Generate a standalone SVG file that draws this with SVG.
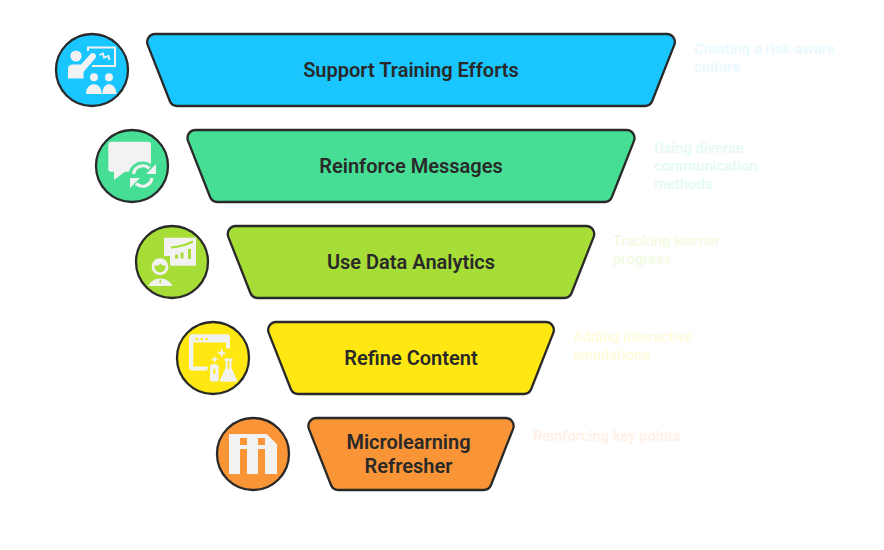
<svg xmlns="http://www.w3.org/2000/svg" width="884" height="550" viewBox="0 0 884 550">
<style>
.s{stroke:#292929;stroke-width:2.3}
.l{font-family:Roboto,"Liberation Sans",sans-serif;font-weight:600;font-size:20px;fill:#292929;text-anchor:middle}
.n{font-family:Roboto,"Liberation Sans",sans-serif;font-weight:500;font-size:14.8px}
.i{fill:#f2f2f2}
</style>
<rect width="884" height="550" fill="#fff"/>
<g id="connectors"/>
<g id="node1">
<path class="s" fill="#1ac6ff" d="M155.300 34H666.700A8 8 0 0 1 674.200 45.070L652.200 101A8 8 0 0 1 644.800 106H177.200A8 8 0 0 1 169.800 101L147.800 45.070A8 8 0 0 1 155.300 34Z"/>
<text class="l" x="411" y="77.400">Support Training Efforts</text>
<circle class="s" fill="#1ac6ff" cx="92" cy="70" r="36"/>
<circle class="i" cx="76" cy="56" r="5.600"/>
<path class="i" d="M68 78.500V69Q68 64.500 73 64.500H81L90.500 54Q93 52 95 54T95.500 58L83.500 72V78.500Z"/>
<path d="M88 51V47.500H115V66H92" fill="none" stroke="#f2f2f2" stroke-width="2" stroke-linejoin="round"/>
<path d="M99.500 55L103 53.500L104 57.500L108.500 56L109.500 60" fill="none" stroke="#f2f2f2" stroke-width="1.800"/>
<circle class="i" cx="94" cy="77.300" r="4"/>
<circle class="i" cx="109" cy="77.300" r="4"/>
<path class="i" d="M86 94Q86 85 94 84Q101.500 85 101.700 94ZM102.300 94Q102.500 85 109 84Q116 85 116.500 94Z"/>
</g>
<g id="node2">
<path class="s" fill="#45de94" d="M195.600 130H626.400A8 8 0 0 1 633.900 141.070L611.900 197A8 8 0 0 1 604.500 202H217.500A8 8 0 0 1 210.100 197L188.100 141.070A8 8 0 0 1 195.600 130Z"/>
<text class="l" x="411" y="173.400">Reinforce Messages</text>
<circle class="s" fill="#45de94" cx="132" cy="166" r="36"/>
<path class="i" d="M111 141.700H148Q151 141.700 151 144.700V169Q151 171.700 148 171.700H125L114 180V171.700H111Q108.300 171.700 108.300 169V144.700Q108.300 141.700 111 141.700Z"/>
<circle cx="142.700" cy="176" r="14.500" fill="#45de94"/>
<path d="M133.500 174A9.500 9.500 0 0 1 149.500 168.500M152 178A9.500 9.500 0 0 1 136 183.500" fill="none" stroke="#f2f2f2" stroke-width="3.200"/>
<path class="i" d="M146 174H156V164ZM130 178H140L130 188Z"/>
</g>
<g id="node3">
<path class="s" fill="#a6dd36" d="M235.900 226H586.100A8 8 0 0 1 593.600 237.070L571.600 293A8 8 0 0 1 564.200 298H257.800A8 8 0 0 1 250.400 293L228.400 237.070A8 8 0 0 1 235.900 226Z"/>
<text class="l" x="411" y="269.400">Use Data Analytics</text>
<circle class="s" fill="#a6dd36" cx="172" cy="262" r="36"/>
<path class="i" d="M164 237.700H196V265.700H170V256H164Z"/>
<path d="M171 247.500Q183 246.500 193 241.500" fill="none" stroke="#a6dd36" stroke-width="2"/>
<path d="M175 254.500H178V258.500H175ZM180.500 252.500H183.500V258.500H180.500ZM188 249H191V259H188Z" fill="#a6dd36"/>
<circle cx="160.500" cy="266.500" r="10" fill="#a6dd36"/>
<circle cx="160" cy="266.700" r="7" fill="none" stroke="#f2f2f2" stroke-width="2.800"/>
<path class="i" d="M153.500 265A7 7 0 0 1 166.800 265Q162 266.500 160.500 263.500Q158 267 153.500 265Z"/>
<path class="i" d="M148.300 286Q151 279.500 159 278.500H161.500Q169.500 279.500 172.700 286Z"/>
<path d="M160.300 279.500V283.500" stroke="#a6dd36" stroke-width="1.500"/>
</g>
<g id="node4">
<path class="s" fill="#ffe711" d="M276.300 322H545.700A8 8 0 0 1 553.200 333.070L531.200 389A8 8 0 0 1 523.800 394H298.200A8 8 0 0 1 290.800 389L268.800 333.070A8 8 0 0 1 276.300 322Z"/>
<text class="l" x="411" y="365.400">Refine Content</text>
<circle class="s" fill="#ffe711" cx="213" cy="358" r="36"/>
<path class="i" d="M192 334.300H227Q230 334.300 230 337.300V348.500H226V342.500H193.300V366.500H207.500V370.500H192Q189 370.500 189 367.500V337.300Q189 334.300 192 334.300Z"/>
<circle cx="196.700" cy="339" r="1.300" fill="#ffe711"/><circle cx="201.700" cy="339" r="1.300" fill="#ffe711"/><circle cx="206.700" cy="339" r="1.300" fill="#ffe711"/>
<path class="i" d="M221.700 348L223 351.700L226.700 353L223 354.300L221.700 358L220.400 354.300L216.700 353L220.400 351.700ZM214.700 355.500L215.800 358.400L218.700 359.500L215.800 360.600L214.700 363.500L213.600 360.600L210.700 359.500L213.600 358.400Z"/>
<path class="i" d="M210 366.500Q210 364 214.300 364Q218.700 364 218.700 366.500V380Q218.700 381.700 214.300 381.700Q210 381.700 210 380ZM224.500 358.500H232.500V361H231.500V368L237 380Q237.500 381.700 235.500 381.700H221.500Q219.500 381.700 220 380L225.500 368V361H224.500Z"/>
<path d="M214.300 369V374" stroke="#ffe711" stroke-width="2"/>
<path d="M228.500 361V369" stroke="#ffe711" stroke-width="1.500"/>
</g>
<g id="node5">
<path class="s" fill="#f99537" d="M316.500 418H505.500A8 8 0 0 1 513 429.070L491 485A8 8 0 0 1 483.600 490H338.400A8 8 0 0 1 331 485L309 429.070A8 8 0 0 1 316.500 418Z"/>
<text class="l" x="408.500" y="449.400">Microlearning</text>
<text class="l" x="408.500" y="473.400">Refresher</text>
<circle class="s" fill="#f99537" cx="253" cy="454" r="36"/>
<path class="i" d="M229 434H266.700L277 444.300V474H265V449H258V474H247V449H240V474H229Z"/>
<path fill="#f99537" d="M240 438H247V445H240ZM258 438H265V445H258Z"/>
</g>
<g id="notes">
<text class="n" fill="#e8f9ff" x="694" y="54">Creating a risk-aware</text>
<text class="n" fill="#e8f9ff" x="694" y="72">culture</text>
<text class="n" fill="#e3fbf0" x="654" y="153">Using diverse</text>
<text class="n" fill="#e3fbf0" x="654" y="171">communication</text>
<text class="n" fill="#e3fbf0" x="654" y="189">methods</text>
<text class="n" fill="#f3fbe3" x="613" y="246">Tracking learner</text>
<text class="n" fill="#f3fbe3" x="613" y="264">progress</text>
<text class="n" fill="#fffbdc" x="573" y="342">Adding interactive</text>
<text class="n" fill="#fffbdc" x="573" y="360">simulations</text>
<text class="n" fill="#fff1e5" x="533" y="441">Reinforcing key points</text>
</g>
</svg>
